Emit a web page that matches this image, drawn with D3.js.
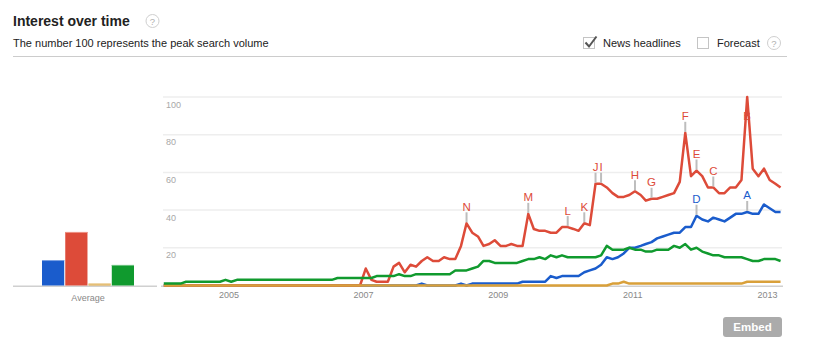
<!DOCTYPE html>
<html><head><meta charset="utf-8">
<script src="https://cdn.jsdelivr.net/npm/d3@7"></script>
<style>
body{margin:0;background:#fff;}
svg{font-family:"Liberation Sans",Arial,sans-serif;display:block;}
</style>
</head><body>
<svg id="chart" width="825" height="359"></svg>
<script>
// ---- data (monthly, Jan 2004 .. Mar 2013) ----
const startYear = 2004;
const seriesNames = ["blue", "red", "orange", "green"];
const seriesColors = ["#1a5ccc", "#dd4b39", "#d9a03a", "#109a2e"];
const barTopColors = ["#7ea3e4", "#ee9487", "#edd39e", "#6cc27f"];

const blueValues = [
  0,0,0,0,0,0,0,0,0,0,0,0, 0,0,0,0,0,0,0,0,0,0,0,0,
  0,0,0,0,0,0,0,0,0,0,0,0, 0,0,0,0,0,0,0,0,0,0,1,0,
  0,0,0,0,0,1,0,1,1,1,1,1, 1,1,1,1,2,2,2,2,2,5,4,5,
  5,5,5,7,8,9,11,15,14,15,17,20, 20,21,22,23,25,26,27,28,28,31,31,37,
  35,34,36,35,34,36,38,38,39,38,38,43, 41,39,39
];
const redValues = [
  0,0,0,0,0,0,0,0,0,0,0,0, 0,0,0,0,0,0,0,0,0,0,0,0,
  0,0,0,0,0,0,0,0,0,0,0,0, 9,3,2,2,2,10,12,7,11,10,13,15,
  13,13,15,14,14,21,33,28,26,21,22,24, 21,21,22,21,21,38,30,29,29,28,28,31,
  31,30,29,33,32,54,54,52,49,47,47,48, 50,48,45,46,46,47,48,49,55,81,58,61,
  58,52,52,49,49,52,52,56,100,62,58,62, 56,54,52
];
const orangeValues = [
  0,0,0,0,0,0,0,0,0,0,0,0, 0,0,0,0,0,0,0,0,0,0,0,0,
  0,0,0,0,0,0,0,0,0,0,0,0, 0,0,0,0,0,0,0,0,0,0,0,0,
  0,0,0,0,0,0,0,0,0,0,0,0, 0,0,0,0,0,0,0,0,0,0,0,0,
  0,0,0,0,0,0,0,0,1,1,2,1, 1,1,1,1,1,1,1,1,1,1,1,1,
  1,1,1,1,1,1,1,1,2,2,2,2, 2,2,2
];
const greenValues = [
  1,1,1,1,2,2,2,2,2,2,2,3, 2,3,3,3,3,3,3,3,3,3,3,3,
  3,3,3,3,3,3,3,4,4,4,4,4, 4,4,5,5,5,5,6,5,5,6,6,6,
  6,6,6,6,8,8,8,9,10,13,13,12, 12,12,12,12,13,14,14,15,14,16,15,16,
  15,15,15,15,15,15,16,21,19,19,19,20, 19,19,18,18,19,19,19,21,20,22,19,20,
  18,17,16,16,15,15,15,15,14,13,13,14, 14,14,13
];
const averageValues = [13.5, 28.4, 1, 10.9];

const yTickValues = [20, 40, 60, 80, 100];
const xTickYears = [2005, 2007, 2009, 2011, 2013];

// news headline markers: letter, series index, month index
const headlineLetters = ["A","B","C","D","E","F","G","H","I","J","K","L","M","N"];
const headlineSeries  = [0,1,1,0,1,1,1,1,1,1,1,1,1,1];
const headlineMonths  = [104,104,98,95,95,93,87,84,78,77,75,72,65,54];

// ---- drawing ----
const svg = d3.select("#chart");
const allValues = [blueValues, redValues, orangeValues, greenValues];
const months = d3.range(blueValues.length).map(i => new Date(startYear, i, 16));

const x = d3.scaleTime()
  .domain([new Date(startYear, 0, 1), new Date(2013, 3, 1)])
  .range([161, 783.5]);
const y = d3.scaleLinear().domain([0, 100]).range([285.5, 97]);

// header
svg.append("text").attr("x", 13).attr("y", 26)
  .attr("font-size", 14).attr("font-weight", "bold").attr("fill", "#222")
  .text("Interest over time");
function helpIcon(cx, cy) {
  svg.append("circle").attr("cx", cx).attr("cy", cy).attr("r", 6.5)
    .attr("fill", "#fff").attr("stroke", "#cfcfcf").attr("stroke-width", 1);
  svg.append("text").attr("x", cx).attr("y", cy + 3.5).attr("text-anchor", "middle")
    .attr("font-size", 9.5).attr("fill", "#b0b0b0").text("?");
}
helpIcon(152.5, 21);
svg.append("text").attr("x", 13).attr("y", 46.5)
  .attr("font-size", 11).attr("fill", "#222")
  .text("The number 100 represents the peak search volume");
svg.append("line").attr("x1", 13).attr("x2", 787).attr("y1", 56.5).attr("y2", 56.5)
  .attr("stroke", "#cccccc").attr("stroke-width", 1);

// checkboxes
svg.append("rect").attr("x", 583.5).attr("y", 37.5).attr("width", 11).attr("height", 11)
  .attr("fill", "#fff").attr("stroke", "#c4c4c4");
svg.append("path").attr("d", "M585.5,42.5 L589,46.5 L596.5,36.5")
  .attr("fill", "none").attr("stroke", "#555").attr("stroke-width", 2);
svg.append("text").attr("x", 603).attr("y", 46.5).attr("font-size", 11).attr("fill", "#222")
  .text("News headlines");
svg.append("rect").attr("x", 697.5).attr("y", 37.5).attr("width", 11).attr("height", 11)
  .attr("fill", "#fff").attr("stroke", "#c4c4c4");
svg.append("text").attr("x", 717).attr("y", 46.5).attr("font-size", 11).attr("fill", "#222")
  .text("Forecast");
helpIcon(774, 43);

// gridlines and y labels
const grid = svg.append("g");
grid.selectAll("line").data(yTickValues).join("line")
  .attr("x1", 163).attr("x2", 782)
  .attr("y1", d => y(d)).attr("y2", d => y(d))
  .attr("stroke", "#eeeeee").attr("stroke-width", 1.5);
grid.selectAll("text").data(yTickValues).join("text")
  .attr("x", 166).attr("y", d => y(d) + 10.5)
  .attr("font-size", 9).attr("fill", "#a8a8a8")
  .text(d => d);

// baselines
svg.append("line").attr("x1", 13).attr("x2", 157).attr("y1", 286.3).attr("y2", 286.3)
  .attr("stroke", "#d0d0d0").attr("stroke-width", 1.5);
svg.append("line").attr("x1", 161).attr("x2", 783).attr("y1", 286.3).attr("y2", 286.3)
  .attr("stroke", "#d0d0d0").attr("stroke-width", 1.5);

// x axis
const xAxis = d3.axisBottom(x)
  .tickValues(xTickYears.map(yr => new Date(yr, 0, 1)))
  .tickFormat(d3.timeFormat("%Y"))
  .tickSize(0).tickPadding(0);
const xg = svg.append("g").attr("transform", "translate(0,292)").call(xAxis);
xg.select(".domain").remove();
xg.selectAll("text").attr("font-size", 9).attr("fill", "#888")
  .attr("font-family", "'Liberation Sans',Arial,sans-serif").attr("dy", "0.71em");

// average bars
const band = d3.scaleBand().domain(seriesNames).range([42, 134]).paddingInner(0.045);
const bars = svg.append("g");
bars.selectAll("rect").data(averageValues).join("rect")
  .attr("x", (d, i) => band(seriesNames[i]))
  .attr("width", band.bandwidth())
  .attr("y", d => y(d))
  .attr("height", d => y(0) - y(d))
  .attr("fill", (d, i) => seriesColors[i]);
bars.selectAll("line").data(averageValues).join("line")
  .attr("x1", (d, i) => band(seriesNames[i]))
  .attr("x2", (d, i) => band(seriesNames[i]) + band.bandwidth())
  .attr("y1", d => y(d) + 0.5).attr("y2", d => y(d) + 0.5)
  .attr("stroke", (d, i) => barTopColors[i]).attr("stroke-width", 1);
svg.append("text").attr("x", 88).attr("y", 300.5).attr("text-anchor", "middle")
  .attr("font-size", 9).attr("fill", "#888").text("Average");

// lines
const line = d3.line()
  .x((d, i) => x(months[i]))
  .y(d => y(d))
  .curve(d3.curveLinear);
svg.append("g").selectAll("path").data(allValues).join("path")
  .attr("d", d => line(d))
  .attr("fill", "none")
  .attr("stroke", (d, i) => seriesColors[i])
  .attr("stroke-width", 2.5)
  .attr("stroke-linejoin", "round");

// headline markers
const marks = svg.append("g");
headlineLetters.forEach((letter, k) => {
  const s = headlineSeries[k], m = headlineMonths[k];
  const px = x(months[m]);
  const py = y(allValues[s][m]);
  const ly = Math.max(py - 17, 115);
  if (py - ly > 7) {
    marks.append("line").attr("x1", px).attr("x2", px)
      .attr("y1", ly + 6).attr("y2", py - 1)
      .attr("stroke", "#bdbdbd").attr("stroke-width", 2);
  }
  marks.append("text").attr("x", px).attr("y", ly + 4.5)
    .attr("text-anchor", "middle").attr("font-size", 11.5)
    .attr("fill", seriesColors[s]).text(letter);
});

// embed button
svg.append("rect").attr("x", 723).attr("y", 317).attr("width", 59).attr("height", 20)
  .attr("rx", 3).attr("fill", "#ababab");
svg.append("text").attr("x", 752.5).attr("y", 331).attr("text-anchor", "middle")
  .attr("font-size", 11.5).attr("font-weight", "bold").attr("fill", "#fff").text("Embed");
</script>
</body></html>
